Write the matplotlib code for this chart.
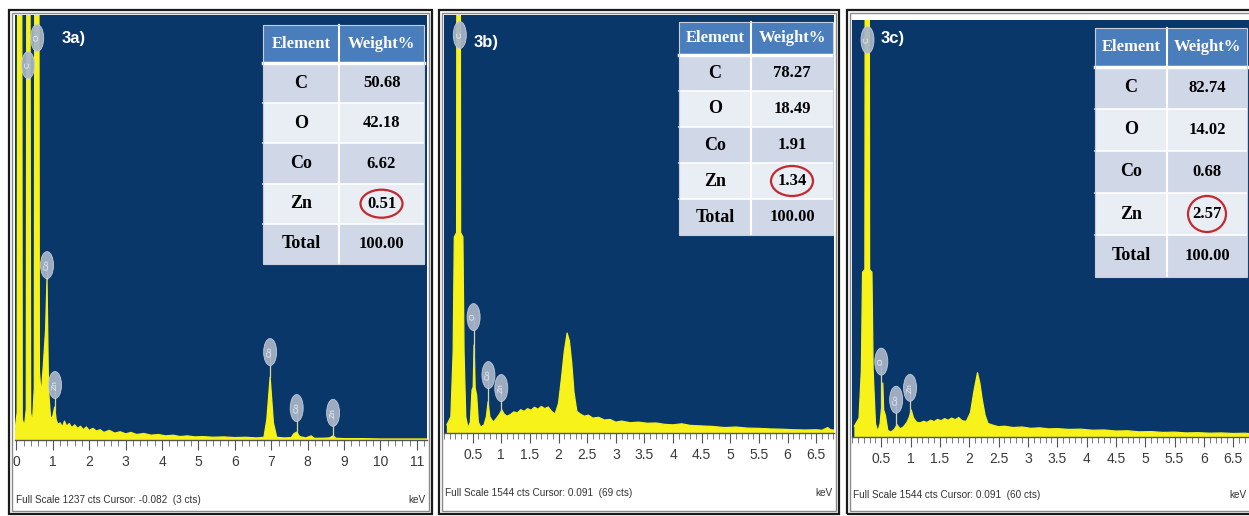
import numpy as np
import matplotlib.pyplot as plt
import matplotlib.transforms as mtransforms
from matplotlib.patches import Ellipse, Rectangle

W, H = 1249, 516

# ---- spectrum 3a (keV, counts), full scale 1237 cts ----
energy_a = [-0.05, 0.02, 0.05, 0.13, 0.16, 0.22, 0.27, 0.30, 0.35, 0.39, 0.44, 0.49, 0.52, 0.60,
            0.63, 0.68, 0.74, 0.80, 0.84, 0.88, 0.94, 1.00, 1.05, 1.09, 1.14, 1.20, 1.26, 1.32,
            1.38, 1.45, 1.52, 1.60, 1.68, 1.76, 1.84, 1.92, 2.00, 2.10, 2.20, 2.30, 2.40, 2.55,
            2.70, 2.85, 3.00, 3.15, 3.30, 3.50, 3.70, 3.90, 4.10, 4.30, 4.50, 4.70, 4.90, 5.10,
            5.40, 5.70, 6.00, 6.30, 6.60, 6.80, 6.88, 6.97, 7.06, 7.15, 7.35, 7.55, 7.62, 7.70,
            7.78, 7.95, 8.10, 8.18, 8.40, 8.60, 8.70, 8.78, 9.00, 9.50, 10.0, 10.5, 11.0, 11.4]
counts_a = [20, 80, 3000, 3000, 60, 40, 90, 3000, 3000, 80, 50, 150, 3000, 3000,
            200, 130, 220, 320, 470, 150, 60, 70, 96, 60, 45, 50, 38, 55,
            40, 48, 36, 44, 34, 40, 30, 38, 28, 34, 26, 30, 22, 28,
            20, 24, 18, 22, 16, 19, 14, 16, 12, 14, 10, 12, 9, 10,
            8, 9, 7, 8, 6, 8, 60, 183, 50, 8, 6, 7, 18, 23,
            10, 6, 12, 5, 5, 6, 12, 5, 4, 4, 3, 3, 3, 3]

# ---- spectrum 3b, full scale 1544 cts ----
energy_b = [0.05, 0.12, 0.16, 0.18, 0.22, 0.23, 0.28, 0.29, 0.33, 0.35, 0.38, 0.42, 0.46, 0.49,
            0.51, 0.525, 0.545, 0.57, 0.60, 0.64, 0.70, 0.74, 0.77, 0.80, 0.86, 0.92, 0.97, 1.01,
            1.05, 1.10, 1.16, 1.22, 1.28, 1.34, 1.40, 1.46, 1.52, 1.58, 1.64, 1.70, 1.76, 1.82,
            1.88, 1.94, 2.00, 2.05, 2.10, 2.15, 2.19, 2.23, 2.27, 2.32, 2.38, 2.45, 2.52, 2.60,
            2.70, 2.80, 2.90, 3.00, 3.10, 3.25, 3.40, 3.55, 3.70, 3.85, 4.00, 4.15, 4.30, 4.50,
            4.70, 4.90, 5.10, 5.30, 5.50, 5.70, 5.90, 6.10, 6.30, 6.50, 6.60, 6.70, 6.75, 6.85]
counts_b = [30, 60, 300, 724, 740, 3000, 3000, 740, 724, 300, 60, 18, 40, 159,
            170, 325, 165, 140, 40, 22, 30, 60, 115, 60, 40, 55, 70, 85,
            70, 62, 68, 78, 74, 86, 80, 90, 84, 95, 88, 98, 90, 96,
            80, 70, 110, 200, 300, 369, 340, 260, 150, 80, 70, 62, 66, 55,
            58, 48, 50, 40, 44, 38, 40, 36, 37, 32, 30, 34, 28, 26,
            24, 20, 22, 18, 17, 15, 14, 12, 11, 12, 10, 20, 12, 10]

# ---- spectrum 3c, full scale 1544 cts ----
energy_c = [0.04, 0.12, 0.16, 0.18, 0.22, 0.23, 0.29, 0.30, 0.34, 0.36, 0.40, 0.44, 0.48, 0.50,
            0.515, 0.525, 0.54, 0.57, 0.61, 0.66, 0.72, 0.77, 0.82, 0.88, 0.94, 0.98, 1.01, 1.05,
            1.10, 1.16, 1.22, 1.28, 1.34, 1.40, 1.46, 1.52, 1.58, 1.64, 1.70, 1.76, 1.82, 1.88,
            1.95, 2.02, 2.08, 2.14, 2.18, 2.22, 2.27, 2.32, 2.40, 2.50, 2.60, 2.75, 2.90, 3.05,
            3.20, 3.35, 3.50, 3.70, 3.90, 4.10, 4.30, 4.50, 4.70, 4.90, 5.10, 5.30, 5.50, 5.70,
            5.90, 6.10, 6.30, 6.50, 6.70, 6.80]
counts_c = [40, 70, 250, 610, 620, 3000, 3000, 620, 610, 250, 50, 20, 50, 100,
            110, 200, 100, 80, 25, 18, 28, 45, 30, 38, 55, 75, 100, 70,
            55, 52, 58, 54, 62, 57, 65, 60, 68, 62, 70, 64, 72, 60,
            58, 90, 170, 238, 200, 140, 80, 50, 44, 38, 40, 35, 37, 32,
            34, 30, 31, 28, 29, 25, 26, 22, 23, 19, 20, 17, 18, 15,
            16, 14, 15, 13, 14, 12]

# peak markers: element, keV, marker height (cts)
marks_a = [("C", 0.32, 1091), ("O", 0.57, 1170), ("Co", 0.84, 509), ("Zn", 1.06, 160),
           ("Co", 6.97, 256), ("Co", 7.70, 93), ("Zn", 8.70, 79)]
marks_b = [("C", 0.276, 1470), ("O", 0.517, 428), ("Co", 0.776, 214), ("Zn", 1.00, 166)]
marks_c = [("C", 0.264, 1470), ("O", 0.50, 279), ("Co", 0.753, 138), ("Zn", 0.99, 182)]

elements = ["C", "O", "Co", "Zn", "Total"]
weight_a = [50.68, 42.18, 6.62, 0.51, 100.00]
weight_b = [78.27, 18.49, 1.91, 1.34, 100.00]
weight_c = [82.74, 14.02, 0.68, 2.57, 100.00]

captions = ["Full Scale 1237 cts Cursor: -0.082  (3 cts)",
            "Full Scale 1544 cts Cursor: 0.091  (69 cts)",
            "Full Scale 1544 cts Cursor: 0.091  (60 cts)"]
full_scale = [1237, 1544, 1544]
panel_names = ["3a)", "3b)", "3c)"]

NAVY = "#0a3769"
YELLOW = "#f7f21a"
SANS = ["Liberation Sans", "DejaVu Sans"]
SERIF = ["Liberation Serif", "DejaVu Serif"]


def fig_box(x0, y0, x1, y1):
    return [x0 / W, 1 - y1 / H, (x1 - x0) / W, (y1 - y0) / H]


def fig_rect(fig, x0, y0, x1, y1, **kw):
    fig.add_artist(Rectangle((x0 / W, 1 - y1 / H), (x1 - x0) / W, (y1 - y0) / H,
                             transform=fig.transFigure, **kw))


def draw_spectrum(fig, box, xlim, ymax, energy, counts, marks, major, minor_step):
    ax = fig.add_axes(fig_box(*box))
    ax.set_autoscale_on(False)
    ax.set_facecolor(NAVY)
    ax.set_xlim(*xlim)
    ax.set_ylim(0, ymax)
    ax.fill_between(energy, counts, 0, color=YELLOW, lw=0, zorder=2)
    ax.plot(energy, counts, color=YELLOW, lw=0.9, zorder=2)

    for name, e, h in marks:
        top = np.interp(e, energy, counts)
        if top < h:
            ax.plot([e, e], [top, h], color="#d6d99a", lw=0.9, zorder=3)
        trans = mtransforms.ScaledTranslation(e, h, ax.transData)
        ax.add_patch(Ellipse((0, 0), 13, 27, transform=trans, fc="#a9b5c9", ec="#c9d1de",
                             lw=0.6, alpha=0.93, zorder=5, clip_on=False))
        ax.text(e, h, name, rotation=90, ha="center", va="center", fontsize=6,
                color="#eef1f6", zorder=6, family=SANS)

    for s in ["top", "left", "right"]:
        ax.spines[s].set_visible(False)
    ax.spines["bottom"].set_color("#555555")
    ax.spines["bottom"].set_linewidth(1.0)
    ax.set_yticks([])
    ax.set_xticks(major)
    ax.set_xticklabels([f"{v:g}" for v in major], family=SANS, fontsize=10, color="#3a3a3a")
    ax.set_xticks(np.arange(0, xlim[1], minor_step), minor=True)
    ax.tick_params(axis="x", which="major", length=7, width=0.8, color="#555555", pad=4)
    ax.tick_params(axis="x", which="minor", length=4, width=0.6, color="#666666")
    return ax


def draw_table(fig, box, split, header_h, weights, ring):
    x0, y0, x1, y1 = box
    n = len(elements)
    row_h = (y1 - y0 - header_h) / n
    fs = 12
    fig_rect(fig, x0, y0, x1, y0 + header_h, fc="#4a7dbb", ec="none", zorder=4)
    fig.text(((x0 + split) / 2) / W, 1 - (y0 + header_h / 2) / H, "Element", ha="center",
             va="center", color="white", fontsize=fs, weight="bold", family=SERIF, zorder=6)
    fig.text(((split + x1) / 2) / W, 1 - (y0 + header_h / 2) / H, "Weight%", ha="center",
             va="center", color="white", fontsize=fs, weight="bold", family=SERIF, zorder=6)
    for i, (el, w) in enumerate(zip(elements, weights)):
        ry = y0 + header_h + i * row_h
        fig_rect(fig, x0, ry, x1, ry + row_h,
                 fc="#d0d8e8" if i % 2 == 0 else "#e9edf4", ec="none", zorder=4)
        cy = 1 - (ry + row_h / 2) / H
        fig.text(((x0 + split) / 2) / W, cy, el, ha="center", va="center", fontsize=fs + 1,
                 weight="bold", family=SERIF, zorder=6)
        fig.text(((split + x1) / 2) / W, cy, f"{w:.2f}", ha="center", va="center",
                 fontsize=fs, weight="bold", family=SERIF, zorder=6)
        if el == "Zn":
            fig.add_artist(Ellipse((((split + x1) / 2) / W, cy), ring[0] / W, ring[1] / H,
                                   transform=fig.transFigure, fill=False, ec="#c22a2f",
                                   lw=1.6, zorder=7))
        if i > 0:
            fig.add_artist(plt.Line2D([x0 / W, x1 / W], [1 - ry / H, 1 - ry / H],
                                      transform=fig.transFigure, color="white", lw=1.2, zorder=5))
    fig.add_artist(plt.Line2D([x0 / W, x1 / W], [1 - (y0 + header_h) / H] * 2,
                              transform=fig.transFigure, color="white", lw=2.5, zorder=5))
    fig.add_artist(plt.Line2D([split / W] * 2, [1 - y0 / H, 1 - y1 / H],
                              transform=fig.transFigure, color="white", lw=1.5, zorder=5))
    fig_rect(fig, x0, y0, x1, y1, fill=False, ec="#c8d0de", lw=0.8, zorder=5)


fig = plt.figure(figsize=(W / 100, H / 100), dpi=100)
fig.patch.set_facecolor("white")

panels = [
    dict(frame=(9, 10, 432, 514), box=(15, 15, 427, 440), xlim=(-0.04, 11.28),
         energy=energy_a, counts=counts_a, marks=marks_a, major=list(range(0, 12)), minor=0.2,
         table=(263, 25, 424, 264), split=339, header=38, weights=weight_a, ring=(42, 28),
         label=(62, 38), caption_y=500, kev_x=425),
    dict(frame=(439, 10, 839, 514), box=(444, 15, 834, 433), xlim=(0.086, 6.81),
         energy=energy_b, counts=counts_b, marks=marks_b, major=[0.5 * k for k in range(1, 14)],
         minor=0.1, table=(679, 22, 833, 235), split=751, header=33, weights=weight_b,
         ring=(42, 30), label=(474, 42), caption_y=493, kev_x=833),
    dict(frame=(847, 10, 1256, 514), box=(852, 20, 1249, 437), xlim=(0.078, 6.77),
         energy=energy_c, counts=counts_c, marks=marks_c, major=[0.5 * k for k in range(1, 14)],
         minor=0.1, table=(1095, 28, 1247, 277), split=1167, header=39, weights=weight_c,
         ring=(38, 36), label=(881, 38), caption_y=495, kev_x=1247),
]

for p, cap, fs_cts, name in zip(panels, captions, full_scale, panel_names):
    x0, y0, x1, y1 = p["frame"]
    fig_rect(fig, x0, y0, x1, y1, fill=False, ec="#1a1a1a", lw=1.6, zorder=8)
    fig_rect(fig, x0 + 3, y0 + 3, x1 - 3, y1 - 3, fill=False, ec="#8a8a8a", lw=1.0, zorder=8)
    draw_spectrum(fig, p["box"], p["xlim"], fs_cts, p["energy"], p["counts"], p["marks"],
                  p["major"], p["minor"])
    draw_table(fig, p["table"], p["split"], p["header"], p["weights"], p["ring"])
    fig.text(p["label"][0] / W, 1 - p["label"][1] / H, name, color="white", fontsize=12,
             weight="bold", family=SANS, va="center", zorder=6)
    fig.text((p["box"][0] + 1) / W, 1 - p["caption_y"] / H, cap, fontsize=7.2,
             family=SANS, color="#333333", va="center")
    fig.text(p["kev_x"] / W, 1 - p["caption_y"] / H, "keV", fontsize=7.2, family=SANS,
             color="#333333", va="center", ha="right")

fig.savefig("out.png", dpi=100, facecolor="white")
